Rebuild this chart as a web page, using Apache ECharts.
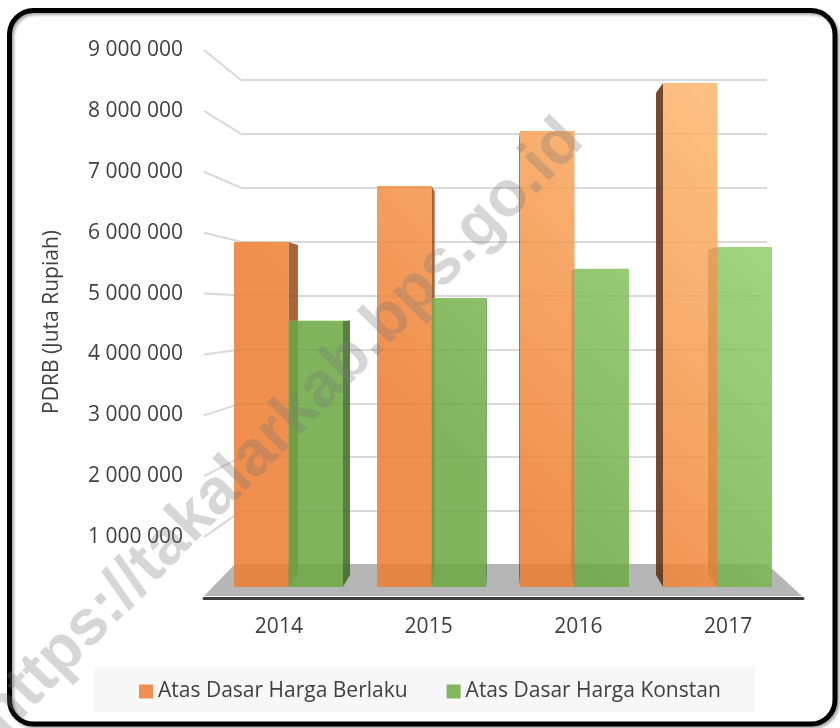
<!DOCTYPE html>
<html>
<head>
<meta charset="utf-8">
<title>PDRB Kabupaten Takalar 2014-2017</title>
<script src="https://cdn.jsdelivr.net/npm/echarts@6.0.0/dist/echarts.min.js"></script>
<style>
  html, body { margin: 0; padding: 0; background: #ffffff; }
  #chart { width: 840px; height: 728px; }
</style>
</head>
<body>
<div id="chart"></div>
<script>
// ---- data -------------------------------------------------------------
const years = ['2014', '2015', '2016', '2017'];
const hargaBerlaku = [5888000, 6843000, 7780000, 8600000];   // current prices
const hargaKonstan = [4540000, 4930000, 5430000, 5800000];   // constant prices
const seriesNames = ['Atas Dasar Harga Berlaku', 'Atas Dasar Harga Konstan'];
const yTicks = [1000000, 2000000, 3000000, 4000000, 5000000, 6000000, 7000000, 8000000, 9000000];
const axisMin = 0;
const axisMax = 9000000;
const axisStep = 1000000;
const axisTitle = 'PDRB (Juta Rupiah)';
const watermark = 'https://takalarkab.bps.go.id';

// ---- layout / look ----------------------------------------------------
const W = 840, H = 728;
const TEXT = '#404040';
const FONT = '"Open Sans", "Noto Sans", sans-serif';
// three planes of the pseudo-3D box: front edge (labels), bar faces, back wall
const frontGrid = { left: 204, right: 37, top: 50, bottom: 130 };
const barGrid   = { left: 217, right: 51, top: 59.6, bottom: 141 };
const wallGrid  = { left: 241, right: 73, top: 80, bottom: 163 };
const eyeLevel = 4710000;     // value at which the horizon sits
const depth = 0.956;          // back face / front face scale of a column
const barShare = 0.381;       // column width as a share of the category band
const faceOpacity = 0.86;

const palettes = [
  { stops: ['#ED7D31', '#FDB66C'], right: '#9B4A18', left: '#5D2B0C', top: '#F7A25E' },
  { stops: ['#6BA843', '#98D470'], right: '#3F6A26', left: '#3A5E22', top: '#9BD276' }
];

function fmt(v) {
  return String(v).replace(/\B(?=(\d{3})+(?!\d))/g, ' ');
}

function faceGradient(stops) {
  // diagonal light fall-off, brighter towards the upper right
  return new echarts.graphic.LinearGradient(400, 400, 703, 97, [
    { offset: 0, color: stops[0] },
    { offset: 1, color: stops[1] }
  ], true);
}

function poly(points, fill, z2) {
  return { type: 'polygon', shape: { points: points }, style: { fill: fill, opacity: faceOpacity }, z2: z2 };
}

function columnRenderer(s) {
  const pal = palettes[s];
  const grad = faceGradient(pal.stops);
  return function (params, api) {
    const cs = params.coordSys;
    const cat = api.value(0);
    const val = api.value(1);
    const top = api.coord([cat, val]);
    const base = api.coord([cat, 0]);
    const band = api.size([1, 0])[0];
    const bw = band * barShare;
    const x0 = s === 0 ? top[0] - bw : top[0];
    const x1 = x0 + bw;
    const yT = top[1], yB = base[1];
    const vx = cs.x + cs.width / 2;
    const vy = api.coord([cat, eyeLevel])[1];
    const back = (x, y) => [vx + (x - vx) * depth, vy + (y - vy) * depth];
    const children = [];
    if (x1 < vx) children.push(poly([[x1, yT], back(x1, yT), back(x1, yB), [x1, yB]], pal.right, 1));
    if (x0 > vx) children.push(poly([[x0, yT], back(x0, yT), back(x0, yB), [x0, yB]], pal.left, 1));
    if (yT > vy) children.push(poly([[x0, yT], [x1, yT], back(x1, yT), back(x0, yT)], pal.top, 2));
    children.push({
      type: 'rect',
      shape: { x: x0, y: yT, width: bw, height: yB - yT },
      style: { fill: grad, opacity: faceOpacity },
      z2: 10
    });
    return { type: 'group', children: children };
  };
}

const chart = echarts.init(document.getElementById('chart'), null, { renderer: 'canvas', width: W, height: H });

const hiddenCat = (gridIndex) => ({
  type: 'category', gridIndex: gridIndex, data: years, show: false, boundaryGap: true
});

const option = {
  animation: false,
  backgroundColor: '#ffffff',
  textStyle: { fontFamily: FONT },
  grid: [
    Object.assign({ containLabel: false }, frontGrid),
    Object.assign({ containLabel: false }, barGrid),
    Object.assign({ containLabel: false }, wallGrid)
  ],
  xAxis: [
    {
      type: 'category', gridIndex: 0, data: years, boundaryGap: true, z: 5,
      axisLine: { show: true, lineStyle: { color: '#3C3C3C', width: 3 } },
      axisTick: { show: false },
      axisLabel: { color: TEXT, fontSize: 21, fontFamily: FONT, margin: 19 },
      splitLine: { show: false }
    },
    hiddenCat(1),
    hiddenCat(2)
  ],
  yAxis: [
    {
      type: 'value', gridIndex: 0, min: axisMin, max: axisMax, interval: axisStep,
      axisLine: { show: false }, axisTick: { show: false }, splitLine: { show: false },
      axisLabel: {
        color: TEXT, fontSize: 21, fontFamily: FONT, margin: 21,
        formatter: (v) => (yTicks.indexOf(v) >= 0 ? fmt(v) : '')
      }
    },
    {
      type: 'value', gridIndex: 1, min: axisMin, max: axisMax, interval: axisStep, show: false
    },
    {
      type: 'value', gridIndex: 2, min: axisMin, max: axisMax, interval: axisStep,
      axisLine: { show: false }, axisTick: { show: false }, axisLabel: { show: false },
      splitLine: { show: true, lineStyle: { color: '#D9D9D9', width: 2 } }
    }
  ],
  legend: {
    data: seriesNames,
    left: 134, top: 676,
    icon: 'rect', itemWidth: 14, itemHeight: 14, itemGap: 39,
    textStyle: { color: TEXT, fontSize: 21, fontFamily: FONT }
  },
  series: [
    {
      name: seriesNames[0], type: 'custom', xAxisIndex: 1, yAxisIndex: 1, z: 3,
      itemStyle: { color: '#F08F4E' },
      renderItem: columnRenderer(0),
      encode: { x: 0, y: 1 },
      data: years.map((y, i) => [i, hargaBerlaku[i]])
    },
    {
      name: seriesNames[1], type: 'custom', xAxisIndex: 1, yAxisIndex: 1, z: 3,
      itemStyle: { color: '#82B65F' },
      renderItem: columnRenderer(1),
      encode: { x: 0, y: 1 },
      data: years.map((y, i) => [i, hargaKonstan[i]])
    }
  ]
};

chart.setOption(option);

// ---- box decoration: floor, slanted tick guides, frame, legend panel ----
const frontZero = H - frontGrid.bottom;
const wallZero = H - wallGrid.bottom;
const graphics = [];

graphics.push({
  type: 'rect', z: -2, silent: true,
  shape: { x: 94, y: 667, width: 661, height: 45 },
  style: { fill: '#F7F7F7' }
});

graphics.push({
  type: 'polygon', z: 1, silent: true,
  shape: {
    points: [
      [wallGrid.left - 6, wallZero - 1],
      [W - wallGrid.right, wallZero - 1],
      [W - frontGrid.right - 1, frontZero - 2],
      [frontGrid.left, frontZero - 2]
    ]
  },
  style: { fill: '#B6B6B6' }
});

yTicks.forEach(function (v) {
  const yf = chart.convertToPixel({ yAxisIndex: 0 }, v);
  const yw = chart.convertToPixel({ yAxisIndex: 2 }, v);
  graphics.push({
    type: 'line', z: 0, silent: true,
    shape: { x1: frontGrid.left, y1: yf, x2: wallGrid.left, y2: yw },
    style: { stroke: '#D9D9D9', lineWidth: 2 }
  });
});

graphics.push({
  type: 'text', z: 5, silent: true,
  x: 52, y: (frontGrid.top + frontZero) / 2 - 2, rotation: Math.PI / 2,
  style: {
    text: axisTitle, fill: TEXT, font: '21px ' + FONT,
    align: 'center', verticalAlign: 'middle'
  }
});

graphics.push({
  type: 'rect', z: 20, silent: true,
  shape: { x: 9.5, y: 10.5, width: 825.5, height: 713.5, r: 24 },
  style: {
    fill: null, stroke: '#000000', lineWidth: 5,
    shadowColor: 'rgba(0,0,0,0.35)', shadowBlur: 3, shadowOffsetX: 2, shadowOffsetY: 2
  }
});

graphics.push({
  type: 'text', z: 30, silent: true,
  x: 282, y: 428, rotation: 0.796,
  style: {
    text: watermark, fill: 'rgba(120,120,120,0.3)',
    font: 'bold 64px "Liberation Sans", Arial, sans-serif',
    align: 'center', verticalAlign: 'middle'
  }
});

chart.setOption({ graphic: graphics });
</script>
</body>
</html>
